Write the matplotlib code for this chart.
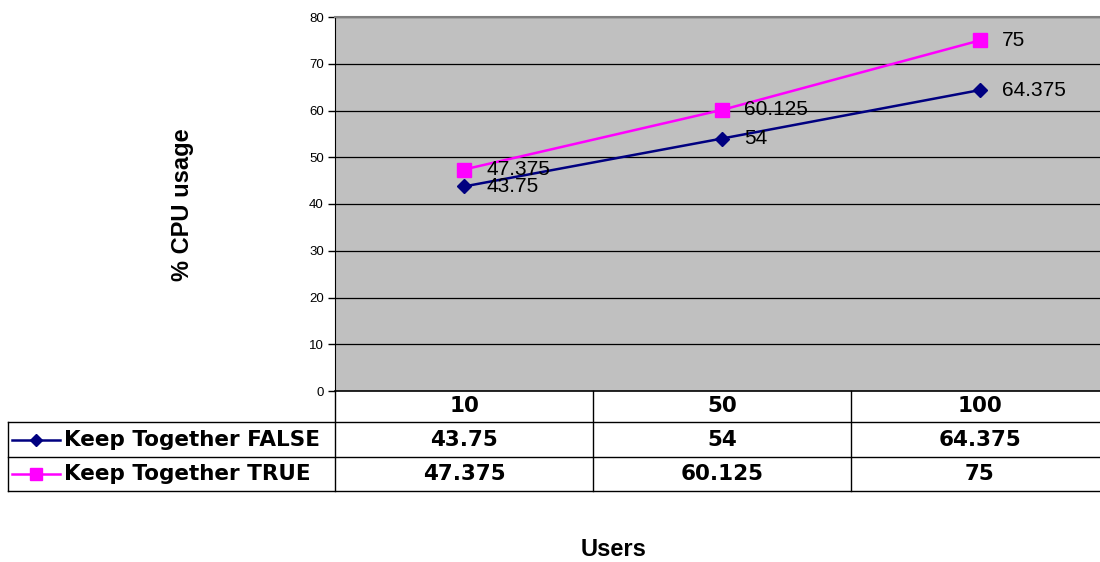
import matplotlib
matplotlib.use("Agg")
import matplotlib.pyplot as plt
from matplotlib.lines import Line2D
import matplotlib.transforms as mtransforms

users = ["10", "50", "100"]
keep_false = [43.75, 54, 64.375]
keep_true = [47.375, 60.125, 75]
series_names = ["Keep Together FALSE", "Keep Together TRUE"]
y_ticks = [0, 10, 20, 30, 40, 50, 60, 70, 80]

W, H = 1100, 562
fig = plt.figure(figsize=(W / 100, H / 100), dpi=100)

# plot area in pixel terms
px_left, px_right, px_top, px_bottom = 335, 1100, 17, 391
ax = fig.add_axes([px_left / W, 1 - px_bottom / H,
                   (px_right - px_left) / W, (px_bottom - px_top) / H])
ax.set_facecolor("#C0C0C0")

x = list(range(len(users)))
col_w = 258
ax.set_xlim(-0.5, -0.5 + (px_right - px_left) / col_w)
ax.set_ylim(0, 80)
ax.set_yticks(y_ticks)
ax.set_yticklabels([str(t) for t in y_ticks], fontsize=9.5, family="Liberation Sans")
ax.tick_params(axis="y", direction="out", length=5, width=1, pad=3)
ax.set_xticks([])
for t in y_ticks[1:]:
    ax.axhline(t, color="black", lw=0.9, zorder=1)
ax.spines["left"].set_color("black")
ax.spines["bottom"].set_color("black")
ax.spines["bottom"].set_linewidth(1.2)
ax.spines["top"].set_color("#808080")
ax.spines["top"].set_linewidth(1.5)
ax.spines["right"].set_visible(False)

colors = ["#000080", "#FF00FF"]
markers = ["D", "s"]
msizes = [7, 10]
for vals, c, m, ms in zip([keep_false, keep_true], colors, markers, msizes):
    ax.plot(x, vals, color=c, lw=1.8, marker=m, markersize=ms,
            markeredgecolor=c, markerfacecolor=c, zorder=3, clip_on=False)
    for xi, v in zip(x, vals):
        ax.annotate(f"{v:g}", (xi, v), xytext=(16, 0), textcoords="offset points",
                    va="center", ha="left", fontsize=15, family="Liberation Sans",
                    color="black", zorder=4)

# data table under the plot
trans = mtransforms.blended_transform_factory(ax.transData, ax.transAxes)
ah = px_bottom - px_top
aw = px_right - px_left


def ay(py):
    return (px_bottom - py) / ah


def ax_x(px):
    return (px - px_left) / aw


rows = [391, 422, 457, 491]
left_px = 8
tbl_font = dict(fontsize=15.5, fontweight="bold", family="DejaVu Sans", color="black")

# horizontal lines
for r in rows[1:]:
    ax.add_line(Line2D([ax_x(left_px), 1.02], [ay(r), ay(r)], transform=ax.transAxes,
                       color="black", lw=1, clip_on=False))
# vertical lines
ax.add_line(Line2D([ax_x(left_px)] * 2, [ay(rows[1]), ay(rows[3])], transform=ax.transAxes,
                   color="black", lw=1, clip_on=False))
for i in range(len(users)):
    ax.add_line(Line2D([i - 0.5, i - 0.5], [ay(rows[0]), ay(rows[3])], transform=trans,
                       color="black", lw=1, clip_on=False))

# header and values
for i, u in enumerate(users):
    ax.text(i, ay((rows[0] + rows[1]) / 2), u, transform=trans, ha="center",
            va="center", clip_on=False, **tbl_font)
for r, vals in enumerate([keep_false, keep_true]):
    yc = ay((rows[r + 1] + rows[r + 2]) / 2)
    for i, v in enumerate(vals):
        ax.text(i, yc, f"{v:g}", transform=trans, ha="center", va="center",
                clip_on=False, **tbl_font)
    # legend key
    ax.add_line(Line2D([ax_x(12), ax_x(60)], [yc, yc], transform=ax.transAxes,
                       color=colors[r], lw=1.8, clip_on=False))
    ax.add_line(Line2D([ax_x(36)], [yc], transform=ax.transAxes, color=colors[r],
                       marker=markers[r], markersize=msizes[r] - 1, clip_on=False))
    ax.text(ax_x(64), yc, series_names[r], transform=ax.transAxes, ha="left",
            va="center", clip_on=False, **tbl_font)

fig.text(614 / W, 1 - 549 / H, "Users", ha="center", va="center",
         fontsize=17, fontweight="bold", family="Liberation Sans")
fig.text(182 / W, 1 - 205 / H, "% CPU usage", ha="center", va="center",
         rotation=90, fontsize=17, fontweight="bold", family="Liberation Sans")

fig.savefig("out.png", dpi=100, facecolor="white")
